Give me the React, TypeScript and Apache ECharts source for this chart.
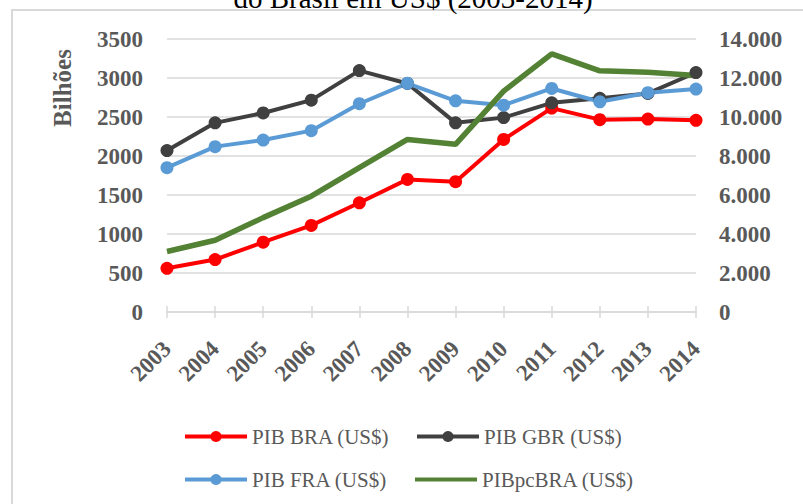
import React, { useEffect, useRef } from "react";
import * as echarts from "echarts";

const years = ["2003", "2004", "2005", "2006", "2007", "2008", "2009", "2010", "2011", "2012", "2013", "2014"];
const pibBRA = [560, 672, 895, 1110, 1400, 1700, 1670, 2212, 2614, 2466, 2473, 2458];
const pibGBR = [2070, 2425, 2552, 2716, 3095, 2930, 2425, 2492, 2682, 2740, 2802, 3070];
const pibFRA = [1850, 2120, 2205, 2325, 2670, 2932, 2708, 2652, 2866, 2695, 2812, 2858];
const pibpcBRA = [3100, 3680, 4840, 5940, 7400, 8850, 8600, 11330, 13240, 12370, 12300, 12130];
const leftTicks = { min: 0, max: 3500, interval: 500 };
const rightTicks = { min: 0, max: 14000, interval: 2000 };
const seriesNames = ["PIB BRA (US$)", "PIB GBR (US$)", "PIB FRA (US$)", "PIBpcBRA (US$)"];
const titleLine = "do Brasil em US$ (2003-2014)";
const yName = "Bilhões";

const FONT = "'Liberation Serif', 'Times New Roman', serif";
const LABEL = "#595959";
const GRID = "#d9d9d9";

function fmtThousands(v: number): string {
  return String(v).replace(/\B(?=(\d{3})+(?!\d))/g, ".");
}

export default function App() {
  const ref = useRef<HTMLDivElement>(null);
  useEffect(() => {
    if (!ref.current) return;
    const chart = echarts.init(ref.current, undefined, { renderer: "svg" });
    const legendText = { fontFamily: FONT, fontSize: 21, color: LABEL };
    const mkLegend = (item: any, left: number, top: number, h = 14) => ({
      data: [item],
      left,
      top,
      itemWidth: 62,
      itemHeight: h,
      textStyle: legendText,
      lineStyle: { width: 4 },
      padding: 0,
    });
    chart.setOption({
      animation: false,
      backgroundColor: "#ffffff",
      textStyle: { fontFamily: FONT },
      grid: { left: 167, right: 107, top: 39, bottom: 192, containLabel: false },
      graphic: [
        {
          type: "rect",
          shape: { x: 12, y: 10, width: 900, height: 600 },
          style: { fill: "none", stroke: GRID, lineWidth: 2 },
          silent: true,
        },
        {
          type: "text",
          x: 413,
          y: -2,
          style: {
            text: titleLine,
            fontFamily: FONT,
            fontSize: 29,
            fill: "#000000",
            align: "center",
            verticalAlign: "middle",
          },
        },
        {
          type: "text",
          x: 62,
          y: 88,
          rotation: Math.PI / 2,
          style: {
            text: yName,
            fontFamily: FONT,
            fontSize: 25,
            fontWeight: "bold",
            fill: LABEL,
            align: "center",
            verticalAlign: "middle",
          },
        },
      ],
      legend: [
        mkLegend(seriesNames[0], 183, 426),
        mkLegend(seriesNames[1], 415, 426),
        mkLegend(seriesNames[2], 183, 469),
        mkLegend({ name: seriesNames[3], icon: "rect" }, 415, 469, 4),
      ],
      xAxis: [
        {
          type: "category",
          data: years,
          boundaryGap: false,
          axisLine: { show: true, lineStyle: { color: GRID, width: 1.5 } },
          axisTick: { show: true, length: 6, lineStyle: { color: GRID, width: 1.5 } },
          axisLabel: {
            rotate: 45,
            margin: 33,
            fontFamily: FONT,
            fontSize: 23,
            fontWeight: "bold",
            color: LABEL,
          },
          splitLine: { show: false },
        },
        {
          type: "category",
          data: years,
          position: "bottom",
          boundaryGap: false,
          axisLine: { show: false },
          axisTick: { show: true, inside: true, length: 6, lineStyle: { color: GRID, width: 1.5 } },
          axisLabel: { show: false },
          splitLine: { show: false },
        },
      ],
      yAxis: [
        {
          type: "value",
          ...leftTicks,
          position: "left",
          axisLine: { show: false },
          axisTick: { show: false },
          axisLabel: {
            margin: 24,
            fontFamily: FONT,
            fontSize: 23,
            fontWeight: "bold",
            color: LABEL,
            formatter: (v: number) => String(v),
          },
          splitLine: { show: true, lineStyle: { color: GRID, width: 1.5 } },
        },
        {
          type: "value",
          ...rightTicks,
          position: "right",
          axisLine: { show: false },
          axisTick: { show: false },
          axisLabel: {
            margin: 23,
            fontFamily: FONT,
            fontSize: 23,
            fontWeight: "bold",
            color: LABEL,
            formatter: (v: number) => fmtThousands(v),
          },
          splitLine: { show: false },
        },
      ],
      series: [
        {
          name: seriesNames[0],
          type: "line",
          data: pibBRA,
          yAxisIndex: 0,
          symbol: "circle",
          symbolSize: 13,
          lineStyle: { color: "#ff0000", width: 4 },
          itemStyle: { color: "#ff0000" },
        },
        {
          name: seriesNames[1],
          type: "line",
          data: pibGBR,
          yAxisIndex: 0,
          symbol: "circle",
          symbolSize: 13,
          lineStyle: { color: "#404040", width: 4 },
          itemStyle: { color: "#404040" },
        },
        {
          name: seriesNames[2],
          type: "line",
          data: pibFRA,
          yAxisIndex: 0,
          symbol: "circle",
          symbolSize: 13,
          lineStyle: { color: "#5b9bd5", width: 4 },
          itemStyle: { color: "#5b9bd5" },
        },
        {
          name: seriesNames[3],
          type: "line",
          data: pibpcBRA,
          yAxisIndex: 1,
          symbol: "none",
          showSymbol: false,
          lineStyle: { color: "#548235", width: 5.5 },
          itemStyle: { color: "#548235" },
        },
      ],
    });
    return () => chart.dispose();
  }, []);
  return (
    <div
      ref={ref}
      style={{ position: "fixed", left: 0, top: 0, width: 803, height: 504, background: "#fff" }}
    />
  );
}
